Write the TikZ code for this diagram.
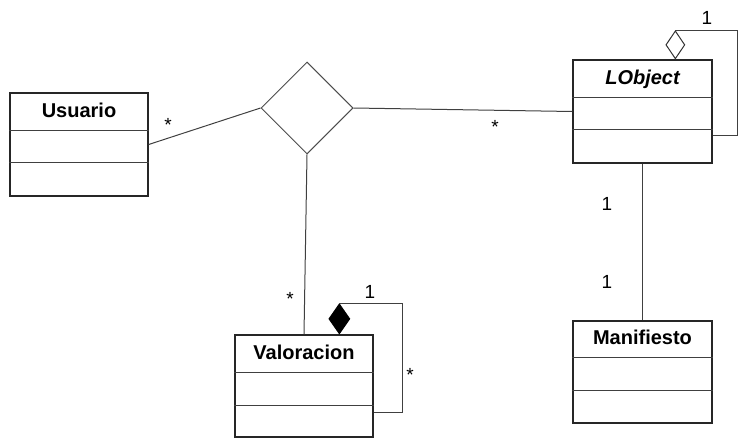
\documentclass[tikz,border=0pt]{standalone}
\usepackage{fontspec}
\setmainfont{Liberation Sans}
\usetikzlibrary{shapes.geometric,calc}
\begin{document}
\begin{tikzpicture}[x=1pt,y=-1pt,
  classbox/.style={draw=black!85,line width=1.3pt,rectangle,inner sep=0pt},
  divider/.style={draw=black!75,line width=1.3pt},
  classname/.style={anchor=base,inner sep=0pt,font=\fontsize{20}{24}\selectfont\bfseries},
  link/.style={draw=black!75,line width=1pt},
  mult/.style={anchor=base,inner sep=0pt,font=\fontsize{19}{22}\selectfont},
  assoc/.style={draw=black!70,line width=1pt,shape=diamond,inner sep=0pt,minimum width=92pt,minimum height=92pt},
  aggr/.style={draw=black!80,line width=1pt,shape=diamond,inner sep=0pt,fill=white},
  comp/.style={draw=black,line width=1pt,shape=diamond,inner sep=0pt,fill=black}]
\useasboundingbox (0,0) rectangle (744,439);

% class boxes
\node[classbox,minimum width=138pt,minimum height=103pt] (usuario) at (79,144.5) {};
\node[classbox,minimum width=139pt,minimum height=103pt] (lobject) at (642.5,111.5) {};
\node[classbox,minimum width=139pt,minimum height=102pt] (manifiesto) at (642.5,372) {};
\node[classbox,minimum width=138pt,minimum height=102pt] (valoracion) at (304,386) {};

% compartment dividers
\foreach \c/\a/\b in {usuario/38/70, lobject/38/70, manifiesto/37/70, valoracion/38/71}{
  \draw[divider] ($(\c.north west)+(0,\a)$) -- ($(\c.north east)+(0,\a)$);
  \draw[divider] ($(\c.north west)+(0,\b)$) -- ($(\c.north east)+(0,\b)$);
}

% class names
\node[classname] (usuarioname) at ($(usuario.north)+(0,25)$) {Usuario};
\node[classname] (lobjectname) at ($(lobject.north)+(0,25)$) {\itshape LObject};
\node[classname] (manifiestoname) at ($(manifiesto.north)+(0,24)$) {Manifiesto};
\node[classname] (valoracionname) at ($(valoracion.north)+(0,25)$) {Valoracion};

% ternary association
\node[assoc] (rel) at (307,108) {};
\draw[link] (usuario.east) -- (rel.west);
\draw[link] (rel.east) -- (lobject.west);
\draw[link] (rel.south) -- (valoracion.north);

% LObject -- Manifiesto
\draw[link] (lobject.south) -- (manifiesto.north);

% LObject self aggregation
\node[aggr,minimum width=19pt,minimum height=28pt,anchor=south] (agg) at ($(lobject.north west)+(103,0)$) {};
\coordinate (aggend) at ($(lobject.north east)+(0,76)$);
\draw[link] (agg.north) -| ($(aggend)+(25,0)$) -- (aggend);

% Valoracion self composition
\node[comp,minimum width=21pt,minimum height=30pt,anchor=south] (cmp) at ($(valoracion.north west)+(105,0)$) {};
\coordinate (cmpend) at ($(valoracion.north east)+(0,78)$);
\draw[link] (cmp.north) -| ($(cmpend)+(29,0)$) -- (cmpend);

% multiplicities
\node[mult] (m1) at (168,131) {*};
\node[mult] (m2) at (495,133) {*};
\node[mult] (m3) at (290,305) {*};
\node[mult] (m4) at (370,298) {1};
\node[mult] (m5) at (410,381) {*};
\node[mult] (m6) at (707,24) {1};
\node[mult] (m7) at (607,210) {1};
\node[mult] (m8) at (607,288) {1};
\end{tikzpicture}
\end{document}
